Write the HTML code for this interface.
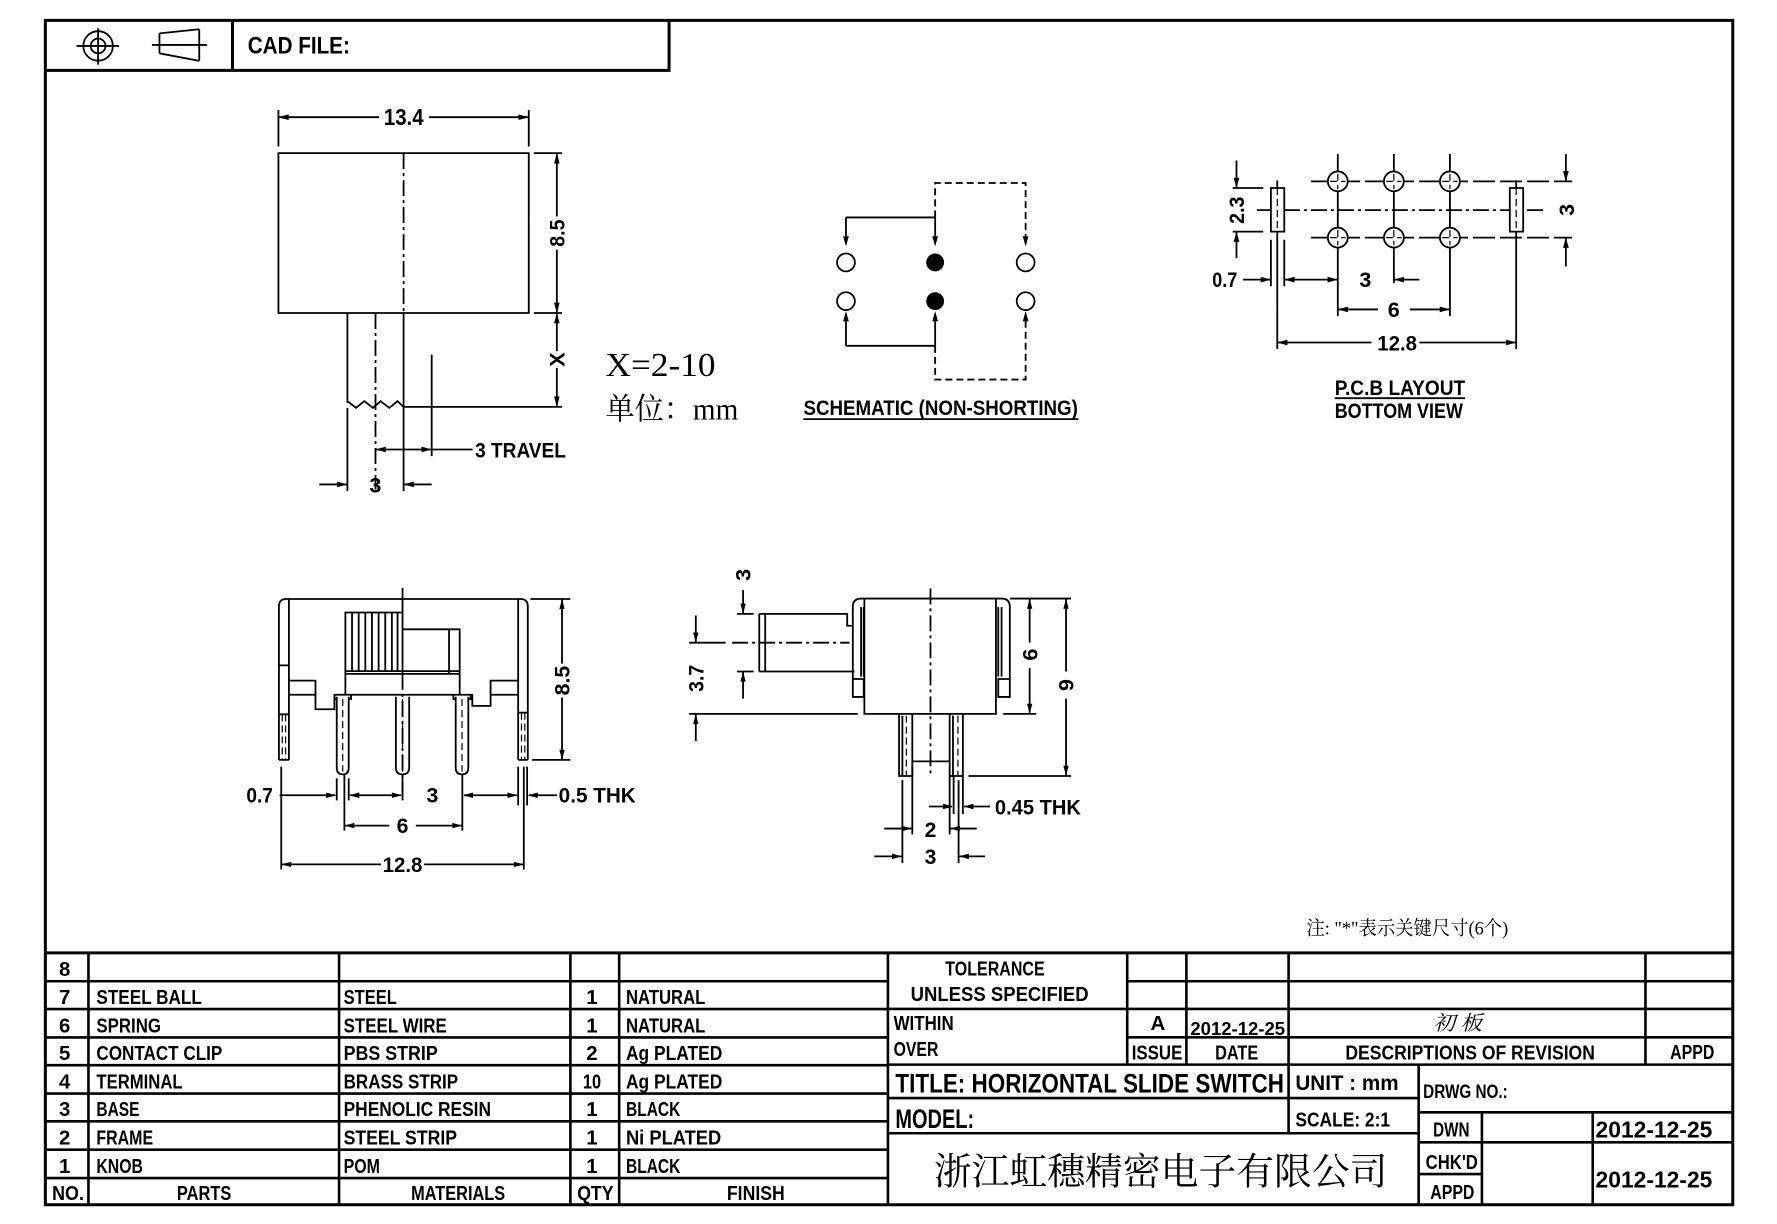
<!DOCTYPE html>
<html><head><meta charset="utf-8"><style>
html,body{margin:0;padding:0;background:#fff;}
svg{display:block}
.k{fill:none;stroke:#000;stroke-width:1.8;vector-effect:non-scaling-stroke}
.t{fill:none;stroke:#000;stroke-width:1.2;vector-effect:non-scaling-stroke}
.d{stroke-dasharray:16 4 3 4}
.s{stroke-dasharray:7 4}
.f{fill:#000;stroke:none}
.fr{fill:none;stroke:#000;stroke-width:3;vector-effect:non-scaling-stroke}
.tb{fill:none;stroke:#000;stroke-width:2.6;vector-effect:non-scaling-stroke}
text{font-family:"Liberation Sans",sans-serif;font-weight:bold;fill:#000}
.cj{font-family:"Liberation Serif","Noto Serif CJK SC",serif;font-weight:normal}
.n{font-weight:normal}
</style></head><body>
<svg width="1777" height="1224" viewBox="0 0 1567 1079" preserveAspectRatio="none" xmlns="http://www.w3.org/2000/svg">
<rect x="0" y="0" width="1567" height="1079" fill="#fff"/>

<!-- Frame -->
<rect class="fr" x="40" y="18" width="1488" height="1044"/>
<path class="fr" d="M40 62H590V18M205 18V62M40 840H1528"/>

<!-- Header icons -->
<circle class="k" cx="86.5" cy="40.5" r="13"/>
<circle class="k" cx="86.5" cy="40.5" r="6.5"/>
<path class="k" d="M67.5 40.5H105M86.5 25V57"/>
<path class="k" d="M134 39.6H182.5M140.6 29.4V47M175.7 25.8V53.7M140.6 29.4L175.7 25.8M140.6 47L175.7 53.7"/>
<text x="218.5" y="47" font-size="21" textLength="90" lengthAdjust="spacingAndGlyphs">CAD FILE:</text>

<!-- ===== G1: top view ===== -->
<g transform="matrix(0.4505 0 0 0.2935 0 0)">
<path class="k" d="M545 330V440M1035 330V440M545 352H742M840 352H1035M545 460H1035V940H545ZM790 940V1475M680 940V1210M680 1225V1475M845 1065V1370M790 1222H1100M1045 460H1100M1045 940H1100M1090 460V650M1090 750V940M1090 940V1055M1090 1105V1222M735 1350H925M625 1455H680M790 1455H845"/>
<path class="k d" d="M790 460V940M735 940V1470"/>
<polyline class="k" points="680,1205 697,1225 713,1205 730,1225 745,1205 762,1225 778,1205 790,1222"/>
<polygon class="f" points="545,352 565,343.5 565,360.5"/>
<polygon class="f" points="1035,352 1015,343.5 1015,360.5"/>
<polygon class="f" points="1090,460 1084.5,491 1095.5,491"/>
<polygon class="f" points="1090,940 1084.5,909 1095.5,909"/>
<polygon class="f" points="1090,940 1084.5,971 1095.5,971"/>
<polygon class="f" points="1090,1222 1084.5,1191 1095.5,1191"/>
<polygon class="f" points="735,1350 755,1341.5 755,1358.5"/>
<polygon class="f" points="845,1350 825,1341.5 825,1358.5"/>
<polygon class="f" points="680,1455 660,1446.5 660,1463.5"/>
<polygon class="f" points="790,1455 810,1446.5 810,1463.5"/>
</g>
<text x="356" y="110" font-size="20" text-anchor="middle" textLength="35" lengthAdjust="spacingAndGlyphs">13.4</text>
<text transform="translate(498,205.5) rotate(-90)" font-size="19" text-anchor="middle" textLength="24" lengthAdjust="spacingAndGlyphs">8.5</text>
<text transform="translate(498,317) rotate(-90)" font-size="19" text-anchor="middle">X</text>
<text class="n" x="534" y="331.5" font-size="30" textLength="97" lengthAdjust="spacingAndGlyphs" style="font-family:'Liberation Serif',serif">X=2-10</text>
<text class="cj" x="534" y="370" font-size="27" textLength="117" lengthAdjust="spacingAndGlyphs">单位：mm</text>
<text x="419" y="403.5" font-size="19" textLength="80" lengthAdjust="spacingAndGlyphs">3 TRAVEL</text>
<text x="331" y="434" font-size="19" text-anchor="middle">3</text>

<!-- ===== G2: schematic & PCB ===== -->
<g transform="matrix(0.5618 0 0 0.2917 687 124)">
<path class="k" d="M105 232H245M105 232V289M245 232V289M105 620H245M105 620V546M245 620V546"/>
<path class="k s" d="M245 232V128H387V289M245 620V722H387V546"/>
<polygon class="f" points="105,320 100.5,289 109.5,289"/>
<polygon class="f" points="245,320 240.5,289 249.5,289"/>
<polygon class="f" points="387,320 382.5,289 391.5,289"/>
<polygon class="f" points="105,515 100.5,546 109.5,546"/>
<polygon class="f" points="245,515 240.5,546 249.5,546"/>
<polygon class="f" points="387,515 382.5,546 391.5,546"/>
<ellipse class="k" cx="105" cy="368" rx="14" ry="27"/>
<ellipse class="f" cx="245" cy="368" rx="14" ry="27"/>
<ellipse class="k" cx="387" cy="368" rx="14" ry="27"/>
<ellipse class="k" cx="105" cy="485" rx="14" ry="27"/>
<ellipse class="f" cx="245" cy="485" rx="14" ry="27"/>
<ellipse class="k" cx="387" cy="485" rx="14" ry="27"/>
<path class="k" style="stroke-dasharray:22 5" d="M835 123H1245M835 293H1245"/>
<path class="k d" d="M750 210H1205"/>
<path class="k" d="M877 40V530M965 40V430M1053 40V530M782 120V143M782 275V630M1157 120V143M1157 275V630M772 300V440M793 300V440M712 143H760M712 275H760M718 60V143M718 355V275M1235 40V123M1235 380V293M728 420H772M793 420H877M965 420H1005M877 510H940M990 510H1053M782 610H930M1005 610H1157"/>
<g style="fill:#fff;stroke:#000;stroke-width:1.8">
<ellipse cx="877" cy="123" rx="15.6" ry="30" style="vector-effect:non-scaling-stroke"/>
<ellipse cx="965" cy="123" rx="15.6" ry="30" style="vector-effect:non-scaling-stroke"/>
<ellipse cx="1053" cy="123" rx="15.6" ry="30" style="vector-effect:non-scaling-stroke"/>
<ellipse cx="877" cy="293" rx="15.6" ry="30" style="vector-effect:non-scaling-stroke"/>
<ellipse cx="965" cy="293" rx="15.6" ry="30" style="vector-effect:non-scaling-stroke"/>
<ellipse cx="1053" cy="293" rx="15.6" ry="30" style="vector-effect:non-scaling-stroke"/>
<rect x="772" y="143" width="21" height="132" style="vector-effect:non-scaling-stroke"/>
<rect x="1147" y="143" width="21" height="132" style="vector-effect:non-scaling-stroke"/>
</g>
<path class="t s" d="M865 123H889M877 100V146M953 123H977M965 100V146M1041 123H1065M1053 100V146M865 293H889M877 270V316M953 293H977M965 270V316M1041 293H1065M1053 270V316M782 143V275M1157 143V275"/>
<polygon class="f" points="718,143 713.5,112 722.5,112"/>
<polygon class="f" points="718,275 713.5,306 722.5,306"/>
<polygon class="f" points="1235,123 1230.5,92 1239.5,92"/>
<polygon class="f" points="1235,293 1230.5,324 1239.5,324"/>
<polygon class="f" points="772,420 756,411.4 756,428.6"/>
<polygon class="f" points="793,420 809,411.4 809,428.6"/>
<polygon class="f" points="877,420 861,411.4 861,428.6"/>
<polygon class="f" points="965,420 981,411.4 981,428.6"/>
<polygon class="f" points="877,510 893,501.4 893,518.6"/>
<polygon class="f" points="1053,510 1037,501.4 1037,518.6"/>
<polygon class="f" points="782,610 798,601.4 798,618.6"/>
<polygon class="f" points="1157,610 1141,601.4 1141,618.6"/>
</g>
<text x="708.5" y="366" font-size="19" textLength="242" lengthAdjust="spacingAndGlyphs">SCHEMATIC (NON-SHORTING)</text>
<path class="k" d="M708.5 369.5H951"/>
<text transform="translate(1097,185.3) rotate(-90)" font-size="19" text-anchor="middle" textLength="24" lengthAdjust="spacingAndGlyphs">2.3</text>
<text transform="translate(1388,185) rotate(-90)" font-size="19" text-anchor="middle">3</text>
<text x="1069" y="253" font-size="19" textLength="22" lengthAdjust="spacingAndGlyphs">0.7</text>
<text x="1204" y="253" font-size="19" text-anchor="middle">3</text>
<text x="1229" y="279.5" font-size="19" text-anchor="middle">6</text>
<text x="1232" y="309" font-size="19" text-anchor="middle" textLength="35" lengthAdjust="spacingAndGlyphs">12.8</text>
<text x="1177" y="348" font-size="19" textLength="115" lengthAdjust="spacingAndGlyphs">P.C.B LAYOUT</text>
<path class="k" d="M1177 351H1292"/>
<text x="1177" y="368.5" font-size="19" textLength="113" lengthAdjust="spacingAndGlyphs">BOTTOM VIEW</text>

<!-- ===== G3: front view ===== -->
<g transform="matrix(0.293 0 0 0.2973 202.6 507.8)">
<path class="k" d="M148 545V90Q148 68 170 68H875Q897 68 897 90V545M178 68V545M868 68V545M148 545H178M868 545H897M148 265H178M148 410H178M868 405H897"/>
<path class="k" d="M178 310H258V395H315V352H730V385H785V310H868M178 352H258M785 352H868"/>
<path class="k" d="M348 352V108H520M520 158H692V352M348 290H692M348 282H692M660 158V290"/>
<path class="k" d="M368 108V282M388 108V282M408 108V282M428 108V282M448 108V282M468 108V282M488 108V282M505 108V282"/>
<path class="k" d="M520 35V290"/>
<path class="k d" d="M520 290V640"/>
<path class="k" d="M322 358V568Q322 588 340 588Q358 588 358 568V358M315 352V365H322M358 365H365V352"/>
<path class="k" d="M500 358V568Q500 588 520 588Q540 588 540 568V358"/>
<path class="k" d="M680 358V568Q680 588 699 588Q718 588 718 568V358M673 352V365H680M718 365H725V352"/>
<path class="t s" d="M340 365V580M520 365V580M699 365V580M158 410V545M168 410V545M878 405V545M888 405V545"/>
<path class="k" d="M905 68H1025M910 545H1025M1000 68V260M1000 360V545"/>
<path class="k" d="M155 565V870M885 565V870M345 590V755M700 590V755M520 590V665M322 600V665M358 600V665M868 565V680M895 565V680"/>
<path class="k" d="M150 650H318M362 650H516M705 650H865M900 650H985M345 740H480M560 740H700M155 855H455M585 855H885"/>
<polygon class="f" points="1000,68 992,98 1008,98"/>
<polygon class="f" points="1000,545 992,515 1008,515"/>
<polygon class="f" points="320,650 290,642 290,658"/>
<polygon class="f" points="360,650 390,642 390,658"/>
<polygon class="f" points="518,650 488,642 488,658"/>
<polygon class="f" points="702,650 732,642 732,658"/>
<polygon class="f" points="866,650 836,642 836,658"/>
<polygon class="f" points="897,650 927,642 927,658"/>
<polygon class="f" points="345,740 375,732 375,748"/>
<polygon class="f" points="700,740 670,732 670,748"/>
<polygon class="f" points="155,855 185,847 185,863"/>
<polygon class="f" points="885,855 855,847 855,863"/>
<text transform="translate(1023,310) rotate(-90)" font-size="64" text-anchor="middle" textLength="88" lengthAdjust="spacingAndGlyphs">8.5</text>
<text x="50" y="672" font-size="64" textLength="80" lengthAdjust="spacingAndGlyphs">0.7</text>
<text x="610" y="672" font-size="64" text-anchor="middle">3</text>
<text x="990" y="672" font-size="64" textLength="232" lengthAdjust="spacingAndGlyphs">0.5 THK</text>
<text x="520" y="762" font-size="64" text-anchor="middle">6</text>
<text x="520" y="877" font-size="64" text-anchor="middle" textLength="120" lengthAdjust="spacingAndGlyphs">12.8</text>
</g>

<!-- ===== G4: side view ===== -->
<g transform="matrix(0.2915 0 0 0.299 601.9 490.3)">
<path class="k" d="M515 415V150Q515 125 540 125H965Q990 125 990 150V415M540 150V355M548 150V355M515 362H548V415H515ZM955 150V355M965 150V355M955 362H990V415H955Z"/>
<path class="k" d="M550 125V465H655M695 465H808M848 465H948V125"/>
<path class="k" d="M232 170H498V205H515M232 340H520M232 170V340M250 170V340"/>
<path class="k" d="M20 255H130"/>
<path class="k d" d="M150 255H505M750 95V648"/>
<path class="k" d="M655 465H695V648H655ZM665 470V648M808 465H848V648H808ZM818 470V648M695 605H808"/>
<path class="t s" d="M677 470V645M833 470V645"/>
<path class="k" d="M183 100V170M165 170H215M165 340H215M183 420V340M40 175V255M40 545V465M20 465H530M1050 125V255M1050 330V465M990 125H1175M970 465H1070M1160 125V340M1160 420V648M865 648H1175"/>
<path class="k" d="M665 660V905M695 615V820M808 650V820M820 650V760M848 650V760M835 660V905M745 738H815M930 738H852M610 803H692M890 803H810M580 885H662M915 885H838"/>
<polygon class="f" points="183,170 175,140 191,140"/>
<polygon class="f" points="183,340 175,370 191,370"/>
<polygon class="f" points="40,255 32,225 48,225"/>
<polygon class="f" points="40,465 32,495 48,495"/>
<polygon class="f" points="1050,125 1042,155 1058,155"/>
<polygon class="f" points="1050,465 1042,435 1058,435"/>
<polygon class="f" points="1160,125 1152,155 1168,155"/>
<polygon class="f" points="1160,648 1152,618 1168,618"/>
<polygon class="f" points="818,738 788,730 788,746"/>
<polygon class="f" points="850,738 880,730 880,746"/>
<polygon class="f" points="694,803 664,795 664,811"/>
<polygon class="f" points="809,803 839,795 839,811"/>
<polygon class="f" points="664,885 634,877 634,893"/>
<polygon class="f" points="836,885 866,877 866,893"/>
<text transform="translate(205,55) rotate(-90)" font-size="64" text-anchor="middle">3</text>
<text transform="translate(63,360) rotate(-90)" font-size="64" text-anchor="middle" textLength="80" lengthAdjust="spacingAndGlyphs">3.7</text>
<text transform="translate(1073,290) rotate(-90)" font-size="64" text-anchor="middle">6</text>
<text transform="translate(1183,380) rotate(-90)" font-size="64" text-anchor="middle">9</text>
<text x="945" y="762" font-size="64" textLength="260" lengthAdjust="spacingAndGlyphs">0.45 THK</text>
<text x="750" y="828" font-size="64" text-anchor="middle">2</text>
<text x="750" y="908" font-size="64" text-anchor="middle">3</text>
</g>

<!-- Note -->
<text class="cj" x="1152" y="824" font-size="17" textLength="178" lengthAdjust="spacingAndGlyphs">注: "*"表示关键尺寸(6个)</text>

<!-- ===== Parts table ===== -->
<path class="tb" d="M78 840V1062M299 840V1062M503 840V1062M546 840V1062M783 840V1062M40 865H783M40 889.5H783M40 914.5H783M40 939H783M40 964H783M40 988.5H783M40 1013.5H783M40 1038.5H783"/>
<g font-size="18">
<text x="57" y="860.5" text-anchor="middle">8</text>
<text x="57" y="885" text-anchor="middle">7</text>
<text x="57" y="910" text-anchor="middle">6</text>
<text x="57" y="934.5" text-anchor="middle">5</text>
<text x="57" y="959.5" text-anchor="middle">4</text>
<text x="57" y="984" text-anchor="middle">3</text>
<text x="57" y="1009" text-anchor="middle">2</text>
<text x="57" y="1034" text-anchor="middle">1</text>
<text x="46" y="1058" textLength="28" lengthAdjust="spacingAndGlyphs">NO.</text>

<text x="85" y="885" textLength="93" lengthAdjust="spacingAndGlyphs">STEEL BALL</text>
<text x="85" y="910" textLength="57" lengthAdjust="spacingAndGlyphs">SPRING</text>
<text x="85" y="934.5" textLength="111" lengthAdjust="spacingAndGlyphs">CONTACT CLIP</text>
<text x="85" y="959.5" textLength="76" lengthAdjust="spacingAndGlyphs">TERMINAL</text>
<text x="85" y="984" textLength="38" lengthAdjust="spacingAndGlyphs">BASE</text>
<text x="85" y="1009" textLength="50" lengthAdjust="spacingAndGlyphs">FRAME</text>
<text x="85" y="1034" textLength="41" lengthAdjust="spacingAndGlyphs">KNOB</text>
<text x="180" y="1058" text-anchor="middle" textLength="48" lengthAdjust="spacingAndGlyphs">PARTS</text>

<text x="303" y="885" textLength="47" lengthAdjust="spacingAndGlyphs">STEEL</text>
<text x="303" y="910" textLength="91" lengthAdjust="spacingAndGlyphs">STEEL WIRE</text>
<text x="303" y="934.5" textLength="83" lengthAdjust="spacingAndGlyphs">PBS STRIP</text>
<text x="303" y="959.5" textLength="101" lengthAdjust="spacingAndGlyphs">BRASS STRIP</text>
<text x="303" y="984" textLength="130" lengthAdjust="spacingAndGlyphs">PHENOLIC RESIN</text>
<text x="303" y="1009" textLength="100" lengthAdjust="spacingAndGlyphs">STEEL STRIP</text>
<text x="303" y="1034" textLength="32" lengthAdjust="spacingAndGlyphs">POM</text>
<text x="404" y="1058" text-anchor="middle" textLength="83" lengthAdjust="spacingAndGlyphs">MATERIALS</text>

<text x="522" y="885" text-anchor="middle">1</text>
<text x="522" y="910" text-anchor="middle">1</text>
<text x="522" y="934.5" text-anchor="middle">2</text>
<text x="522" y="959.5" text-anchor="middle" textLength="16" lengthAdjust="spacingAndGlyphs">10</text>
<text x="522" y="984" text-anchor="middle">1</text>
<text x="522" y="1009" text-anchor="middle">1</text>
<text x="522" y="1034" text-anchor="middle">1</text>
<text x="509" y="1058" textLength="32" lengthAdjust="spacingAndGlyphs">QTY</text>

<text x="552" y="885" textLength="70" lengthAdjust="spacingAndGlyphs">NATURAL</text>
<text x="552" y="910" textLength="70" lengthAdjust="spacingAndGlyphs">NATURAL</text>
<text x="552" y="934.5" textLength="85" lengthAdjust="spacingAndGlyphs">Ag PLATED</text>
<text x="552" y="959.5" textLength="85" lengthAdjust="spacingAndGlyphs">Ag PLATED</text>
<text x="552" y="984" textLength="48" lengthAdjust="spacingAndGlyphs">BLACK</text>
<text x="552" y="1009" textLength="84" lengthAdjust="spacingAndGlyphs">Ni PLATED</text>
<text x="552" y="1034" textLength="48" lengthAdjust="spacingAndGlyphs">BLACK</text>
<text x="666.5" y="1058" text-anchor="middle" textLength="51" lengthAdjust="spacingAndGlyphs">FINISH</text>
</g>

<!-- ===== Title block ===== -->
<path class="tb" d="M994 840V938.5M1046.2 840V938.5M1136.3 840V999M1451 840V938.5M1251 938.5V1062M1306.8 980.5V1062M1404.5 980.5V1062M994 865H1528M783 889.4H1528M994 914.4H1528M783 938.5H1528M783 968H1251M1251 980.5H1528M783 999H1251M1251 1007H1528M1251 1035H1306.8"/>
<g font-size="18">
<text x="833.6" y="860" textLength="87.6" lengthAdjust="spacingAndGlyphs">TOLERANCE</text>
<text x="803" y="882.6" textLength="157" lengthAdjust="spacingAndGlyphs">UNLESS   SPECIFIED</text>
<text x="788" y="908" textLength="53" lengthAdjust="spacingAndGlyphs">WITHIN</text>
<text x="788" y="931" textLength="39.5" lengthAdjust="spacingAndGlyphs">OVER</text>
<text x="1021" y="908" text-anchor="middle">A</text>
<text x="1049.7" y="912.3" font-size="16" textLength="83.5" lengthAdjust="spacingAndGlyphs">2012-12-25</text>
<text class="cj" x="1264" y="908" font-size="18" textLength="43" lengthAdjust="spacingAndGlyphs" font-style="italic">初 板</text>
<text x="998" y="934" textLength="44.6" lengthAdjust="spacingAndGlyphs">ISSUE</text>
<text x="1071.5" y="934" textLength="38" lengthAdjust="spacingAndGlyphs">DATE</text>
<text x="1186.4" y="934" textLength="220" lengthAdjust="spacingAndGlyphs">DESCRIPTIONS OF REVISION</text>
<text x="1472.8" y="933.5" textLength="39" lengthAdjust="spacingAndGlyphs">APPD</text>
<text x="789.6" y="963" font-size="24" textLength="342.6" lengthAdjust="spacingAndGlyphs">TITLE: HORIZONTAL SLIDE SWITCH</text>
<text x="1142.3" y="961" font-size="19" textLength="91" lengthAdjust="spacingAndGlyphs">UNIT : mm</text>
<text x="1255" y="968" font-size="17" textLength="74.6" lengthAdjust="spacingAndGlyphs">DRWG NO.:</text>
<text x="789.6" y="994.3" font-size="24" textLength="69.4" lengthAdjust="spacingAndGlyphs">MODEL:</text>
<text x="1142.3" y="993" textLength="83.5" lengthAdjust="spacingAndGlyphs">SCALE: 2:1</text>
<text x="1263.8" y="1002" textLength="32" lengthAdjust="spacingAndGlyphs">DWN</text>
<text x="1407" y="1002.6" font-size="20" textLength="103" lengthAdjust="spacingAndGlyphs">2012-12-25</text>
<text x="1257.2" y="1030.5" textLength="46" lengthAdjust="spacingAndGlyphs">CHK'D</text>
<text x="1261.2" y="1057" textLength="39" lengthAdjust="spacingAndGlyphs">APPD</text>
<text x="1407" y="1046.7" font-size="20" textLength="103" lengthAdjust="spacingAndGlyphs">2012-12-25</text>
</g>
<text class="cj" x="823.5" y="1044" font-size="33" textLength="400" lengthAdjust="spacingAndGlyphs">浙江虹穗精密电子有限公司</text>
</svg>
</body></html>
